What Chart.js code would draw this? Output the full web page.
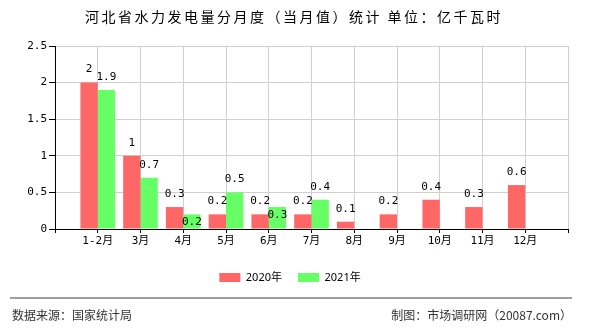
<!DOCTYPE html>
<html>
<head>
<meta charset="utf-8">
<script src="https://cdn.jsdelivr.net/npm/chart.js@4"></script>
<style>
  html, body { margin: 0; padding: 0; background: #fff; }
</style>
</head>
<body>
<canvas id="chart" width="590" height="330"></canvas>
<script>
const months = ["1-2月", "3月", "4月", "5月", "6月", "7月", "8月", "9月", "10月", "11月", "12月"]
const values2020 = [2, 1, 0.3, 0.2, 0.2, 0.2, 0.1, 0.2, 0.4, 0.3, 0.6]
const values2021 = [1.9, 0.7, 0.2, 0.5, 0.3, 0.4, null, null, null, null, null]
const seriesNames = ["2020年", "2021年"]
const yMax = 2.5
const yStep = 0.5

const titleText = "河北省水力发电量分月度（当月值）统计 单位：亿千瓦时"
const sourceText = "数据来源：国家统计局"
const makerText = "制图：市场调研网（20087.com）"

const monoFont = "'DejaVu Sans Mono', 'Noto Sans CJK SC', monospace"
const cjkFont = "'Noto Sans CJK SC', 'Noto Sans', sans-serif"

// blank slots at both ends so the months sit on the grid lines
const labels = ["", ...months, ""]
const pad = (arr) => [null, ...arr, null]

const barLabels = {
  id: "barLabels",
  afterDatasetsDraw(chart) {
    const ctx = chart.ctx
    ctx.save()
    ctx.font = "11px " + monoFont
    ctx.fillStyle = "#000"
    ctx.textAlign = "center"
    ctx.textBaseline = "middle"
    const placed = []
    chart.data.datasets.forEach((ds, di) => {
      const meta = chart.getDatasetMeta(di)
      meta.data.forEach((bar, i) => {
        const v = ds.data[i]
        if (v === null || v === undefined) return
        const text = String(v)
        const w = ctx.measureText(text).width
        let y = bar.y - 13
        const hit = placed.some(p => p.i === i &&
          Math.abs(p.x - bar.x) < (p.w + w) / 2 && Math.abs(p.y - y) < 12)
        if (hit) y += 21
        placed.push({ i, x: bar.x, y, w })
        ctx.fillText(text, bar.x, y)
      })
    })
    ctx.restore()
  }
}

const frame = {
  id: "frame",
  afterDraw(chart) {
    const ctx = chart.ctx
    ctx.save()
    ctx.fillStyle = "#000"
    ctx.font = "14px " + cjkFont
    ctx.letterSpacing = "2.5px"
    ctx.textAlign = "center"
    ctx.textBaseline = "middle"
    ctx.fillText(titleText, 294, 17)
    ctx.letterSpacing = "0px"

    ctx.strokeStyle = "#808080"
    ctx.lineWidth = 1.5
    ctx.beginPath()
    ctx.moveTo(10, 298)
    ctx.lineTo(572, 298)
    ctx.stroke()

    ctx.fillStyle = "#333"
    ctx.font = "12px " + cjkFont
    ctx.textAlign = "left"
    ctx.fillText(sourceText, 12, 315.5)
    ctx.textAlign = "right"
    ctx.fillText(makerText, 572, 315.5)
    ctx.restore()
  }
}

new Chart(document.getElementById("chart"), {
  type: "bar",
  data: {
    labels: labels,
    datasets: [
      { label: seriesNames[0], data: pad(values2020), backgroundColor: "#FF6666" },
      { label: seriesNames[1], data: pad(values2021), backgroundColor: "#66FF66" }
    ]
  },
  options: {
    responsive: false,
    animation: false,
    categoryPercentage: 0.81,
    barPercentage: 1,
    layout: {
      padding: { left: 12, right: 22, top: 46, bottom: 37 }
    },
    plugins: {
      title: { display: false },
      tooltip: { enabled: false },
      legend: {
        position: "bottom",
        labels: {
          color: "#000",
          boxWidth: 21,
          boxHeight: 9,
          padding: 16,
          font: { family: "'Noto Sans', 'Noto Sans CJK SC', sans-serif", size: 11 }
        }
      }
    },
    scales: {
      x: {
        offset: false,
        afterFit(axis) { axis.height = 27 },
        grid: { offset: false, color: "#d0d0d0", tickColor: "#000", tickLength: 4 },
        border: { color: "#000", width: 1 },
        ticks: {
          autoSkip: false,
          maxRotation: 0,
          padding: 2,
          color: "#000",
          font: { family: monoFont, size: 11 }
        }
      },
      y: {
        min: 0,
        max: yMax,
        afterFit(axis) { axis.width = 43 },
        grid: { color: "#d0d0d0", tickColor: "#000", tickLength: 6 },
        border: { color: "#000", width: 1 },
        ticks: {
          stepSize: yStep,
          padding: 2,
          color: "#000",
          font: { family: monoFont, size: 11 },
          callback: (v) => String(v)
        }
      }
    }
  },
  plugins: [barLabels, frame]
})
</script>
</body>
</html>
